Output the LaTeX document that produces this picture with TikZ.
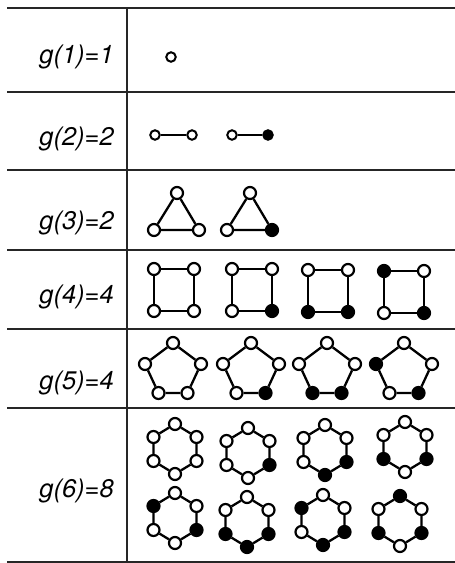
\documentclass[tikz,border=0pt]{standalone}
\usepackage{fontspec}
\setmainfont{TeX Gyre Heros}
\begin{document}
\begin{tikzpicture}[x=1pt,y=-1pt,
  rule/.style={line width=2.3pt,black!85},
  lbl/.style={anchor=base east,inner sep=0pt,font=\fontsize{25.5}{25.5}\selectfont\itshape},
  wn/.style={circle,draw,fill=white,line width=2.2pt,inner sep=0pt,minimum size=12pt},
  bn/.style={wn,fill=black},
  sn/.style={circle,draw,fill=white,line width=2pt,inner sep=0pt,minimum size=9.5pt},
  sbn/.style={sn,fill=black},
  edge/.style={line width=2.3pt}]
\useasboundingbox (0,0) rectangle (455,563);
% table rules
\draw[rule] (7,8) -- (455,8);
\draw[rule] (7,92) -- (455,92);
\draw[rule] (7,170) -- (455,170);
\draw[rule] (7,250) -- (455,250);
\draw[rule] (7,329) -- (455,329);
\draw[rule] (7,408) -- (455,408);
\draw[rule] (7,562) -- (455,562);
\draw[rule] (127,8) -- (127,563);
% labels
\node[lbl] (l1) at (114,63) {g(1)=1};
\node[lbl] (l2) at (114,145) {g(2)=2};
\node[lbl] (l3) at (114,229) {g(3)=2};
\node[lbl] (l4) at (114,303) {g(4)=4};
\node[lbl] (l5) at (114,389) {g(5)=4};
\node[lbl] (l6) at (114,497) {g(6)=8};
% row 1
\node[sn] (a1) at (171,57) {};
% row 2
\node[sn] (b1) at (155,135) {};
\node[sn] (b2) at (192,135) {};
\node[sn] (b3) at (232,135) {};
\node[sbn] (b4) at (268,135) {};
\draw[edge] (b1) -- (b2);
\draw[edge] (b3) -- (b4);
% row 3 triangles
\node[wn] (t1a) at (177,193) {};
\node[wn] (t1b) at (199,230) {};
\node[wn] (t1c) at (154,230) {};
\draw[edge] (t1a) -- (t1b) -- (t1c) -- (t1a);
\node[wn] (t2a) at (250,193) {};
\node[bn] (t2b) at (272,230) {};
\node[wn] (t2c) at (227,230) {};
\draw[edge] (t2a) -- (t2b) -- (t2c) -- (t2a);
% row 4 squares: TL TR BR BL
\foreach \i/\cx/\cy/\fa/\fb/\fc/\fd in {1/174/290/wn/wn/wn/wn, 2/252/290/wn/wn/bn/wn, 3/328/291/wn/wn/bn/bn, 4/404/292/bn/wn/bn/wn}{
  \node[\fa] (s\i a) at (\cx-20,\cy-21) {};
  \node[\fb] (s\i b) at (\cx+20,\cy-21) {};
  \node[\fc] (s\i c) at (\cx+20,\cy+21) {};
  \node[\fd] (s\i d) at (\cx-20,\cy+21) {};
  \draw[edge] (s\i a) -- (s\i b) -- (s\i c) -- (s\i d) -- (s\i a);
}
% row 5 pentagons: top right BR BL left
\foreach \i/\cx/\cy/\fa/\fb/\fc/\fd/\fe in {1/173/368/wn/wn/wn/wn/wn, 2/251/368/wn/wn/bn/wn/wn, 3/327/368/wn/wn/bn/bn/wn, 4/404/368/wn/wn/bn/wn/bn}{
  \node[\fa] (p\i a) at (\cx,\cy-25) {};
  \node[\fb] (p\i b) at (\cx+28,\cy-4) {};
  \node[\fc] (p\i c) at (\cx+14.5,\cy+25) {};
  \node[\fd] (p\i d) at (\cx-14.5,\cy+25) {};
  \node[\fe] (p\i e) at (\cx-28,\cy-4) {};
  \draw[edge] (p\i a) -- (p\i b) -- (p\i c) -- (p\i d) -- (p\i e) -- (p\i a);
}
% row 6 hexagons: top UR LR bottom LL UL
\foreach \i/\cx/\cy/\fa/\fb/\fc/\fd/\fe/\ff in {
  1/175/449/wn/wn/wn/wn/wn/wn,
  2/248/453/wn/wn/bn/wn/wn/wn,
  3/325/450/wn/wn/bn/bn/wn/wn,
  4/405/447/wn/wn/bn/wn/bn/wn,
  5/175/518/wn/wn/bn/wn/wn/bn,
  6/247/522/wn/wn/bn/bn/bn/wn,
  7/323/520/wn/wn/bn/bn/wn/bn,
  8/400/521/bn/wn/bn/wn/bn/wn}{
  \node[\fa] (h\i a) at (\cx,\cy-25) {};
  \node[\fb] (h\i b) at (\cx+21.5,\cy-12) {};
  \node[\fc] (h\i c) at (\cx+21.5,\cy+12) {};
  \node[\fd] (h\i d) at (\cx,\cy+25) {};
  \node[\fe] (h\i e) at (\cx-21.5,\cy+12) {};
  \node[\ff] (h\i f) at (\cx-21.5,\cy-12) {};
  \draw[edge] (h\i a) -- (h\i b) -- (h\i c) -- (h\i d) -- (h\i e) -- (h\i f) -- (h\i a);
}
\end{tikzpicture}
\end{document}
